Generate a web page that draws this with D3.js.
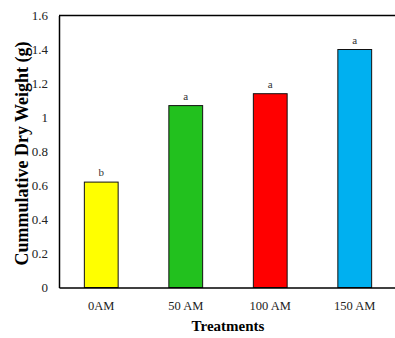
<!DOCTYPE html>
<html>
<head>
<meta charset="utf-8">
<script src="https://cdn.jsdelivr.net/npm/d3@7"></script>
<style>
  body { margin: 0; background: #fff; }
  svg text { font-family: 'Liberation Serif', 'Times New Roman', serif; }
</style>
</head>
<body>
<svg></svg>
<script>
let treatments = ['0AM', '50 AM', '100 AM', '150 AM']
let dryWeight = [0.62, 1.07, 1.14, 1.40]
let letters = ['b', 'a', 'a', 'a']
let barColors = ['#ffff00', '#22c11e', '#ff0000', '#00b0f0']
let yTicks = [0, 0.2, 0.4, 0.6, 0.8, 1, 1.2, 1.4, 1.6]

let width = 395
let height = 338
let plotLeft = 59
let plotRight = 397
let plotTop = 15.5
let plotBottom = 287.5

let svg = d3.select('svg')
    .attr('width', width)
    .attr('height', height)

let xScale = d3.scaleBand()
    .domain(treatments)
    .range([plotLeft, plotRight])
    .paddingInner(0.6)
    .paddingOuter(0.3)

let yScale = d3.scaleLinear()
    .domain([0, 1.6])
    .range([plotBottom, plotTop])

// bars
svg.selectAll('.bar')
    .data(dryWeight)
    .enter()
    .append('rect')
    .attr('class', 'bar')
    .attr('x', (d, i) => xScale(treatments[i]))
    .attr('y', d => yScale(d))
    .attr('width', xScale.bandwidth())
    .attr('height', d => plotBottom - yScale(d))
    .attr('fill', (d, i) => barColors[i])
    .attr('stroke', '#111')
    .attr('stroke-width', 1)

// significance letters
svg.selectAll('.letter')
    .data(dryWeight)
    .enter()
    .append('text')
    .attr('x', (d, i) => xScale(treatments[i]) + xScale.bandwidth() / 2)
    .attr('y', d => yScale(d) - 6)
    .attr('text-anchor', 'middle')
    .attr('font-size', 11)
    .attr('fill', '#333')
    .text((d, i) => letters[i])

// y axis
let yAxis = d3.axisLeft(yScale)
    .tickValues(yTicks)
    .tickFormat(d => d)
    .tickSize(0)
    .tickPadding(11)

let gy = svg.append('g')
    .attr('transform', 'translate(' + plotLeft + ',0)')
    .call(yAxis)
    .attr('font-family', "'Liberation Serif', serif")
    .attr('font-size', 13)
gy.select('.domain').attr('stroke', '#000').attr('stroke-width', 1.5)
gy.selectAll('text').attr('fill', '#222')

// x axis
let xAxis = d3.axisBottom(xScale)
    .tickSize(0)
    .tickPadding(14)

let gx = svg.append('g')
    .attr('transform', 'translate(0,' + plotBottom + ')')
    .call(xAxis)
    .attr('font-family', "'Liberation Serif', serif")
    .attr('font-size', 12.5)
gx.select('.domain').attr('stroke', '#000').attr('stroke-width', 1.5)
gx.selectAll('text').attr('fill', '#222')

// top border
svg.append('line')
    .attr('x1', plotLeft)
    .attr('x2', width)
    .attr('y1', plotTop)
    .attr('y2', plotTop)
    .attr('stroke', '#000')
    .attr('stroke-width', 1.5)

// axis titles
svg.append('text')
    .attr('transform', 'translate(28,' + ((plotTop + plotBottom) / 2 + 2) + ') rotate(-90)')
    .attr('text-anchor', 'middle')
    .attr('font-size', 18)
    .attr('font-weight', 'bold')
    .text('Cummulative Dry Weight (g)')

svg.append('text')
    .attr('x', 228)
    .attr('y', 331)
    .attr('text-anchor', 'middle')
    .attr('font-size', 15)
    .attr('font-weight', 'bold')
    .text('Treatments')
</script>
</body>
</html>
